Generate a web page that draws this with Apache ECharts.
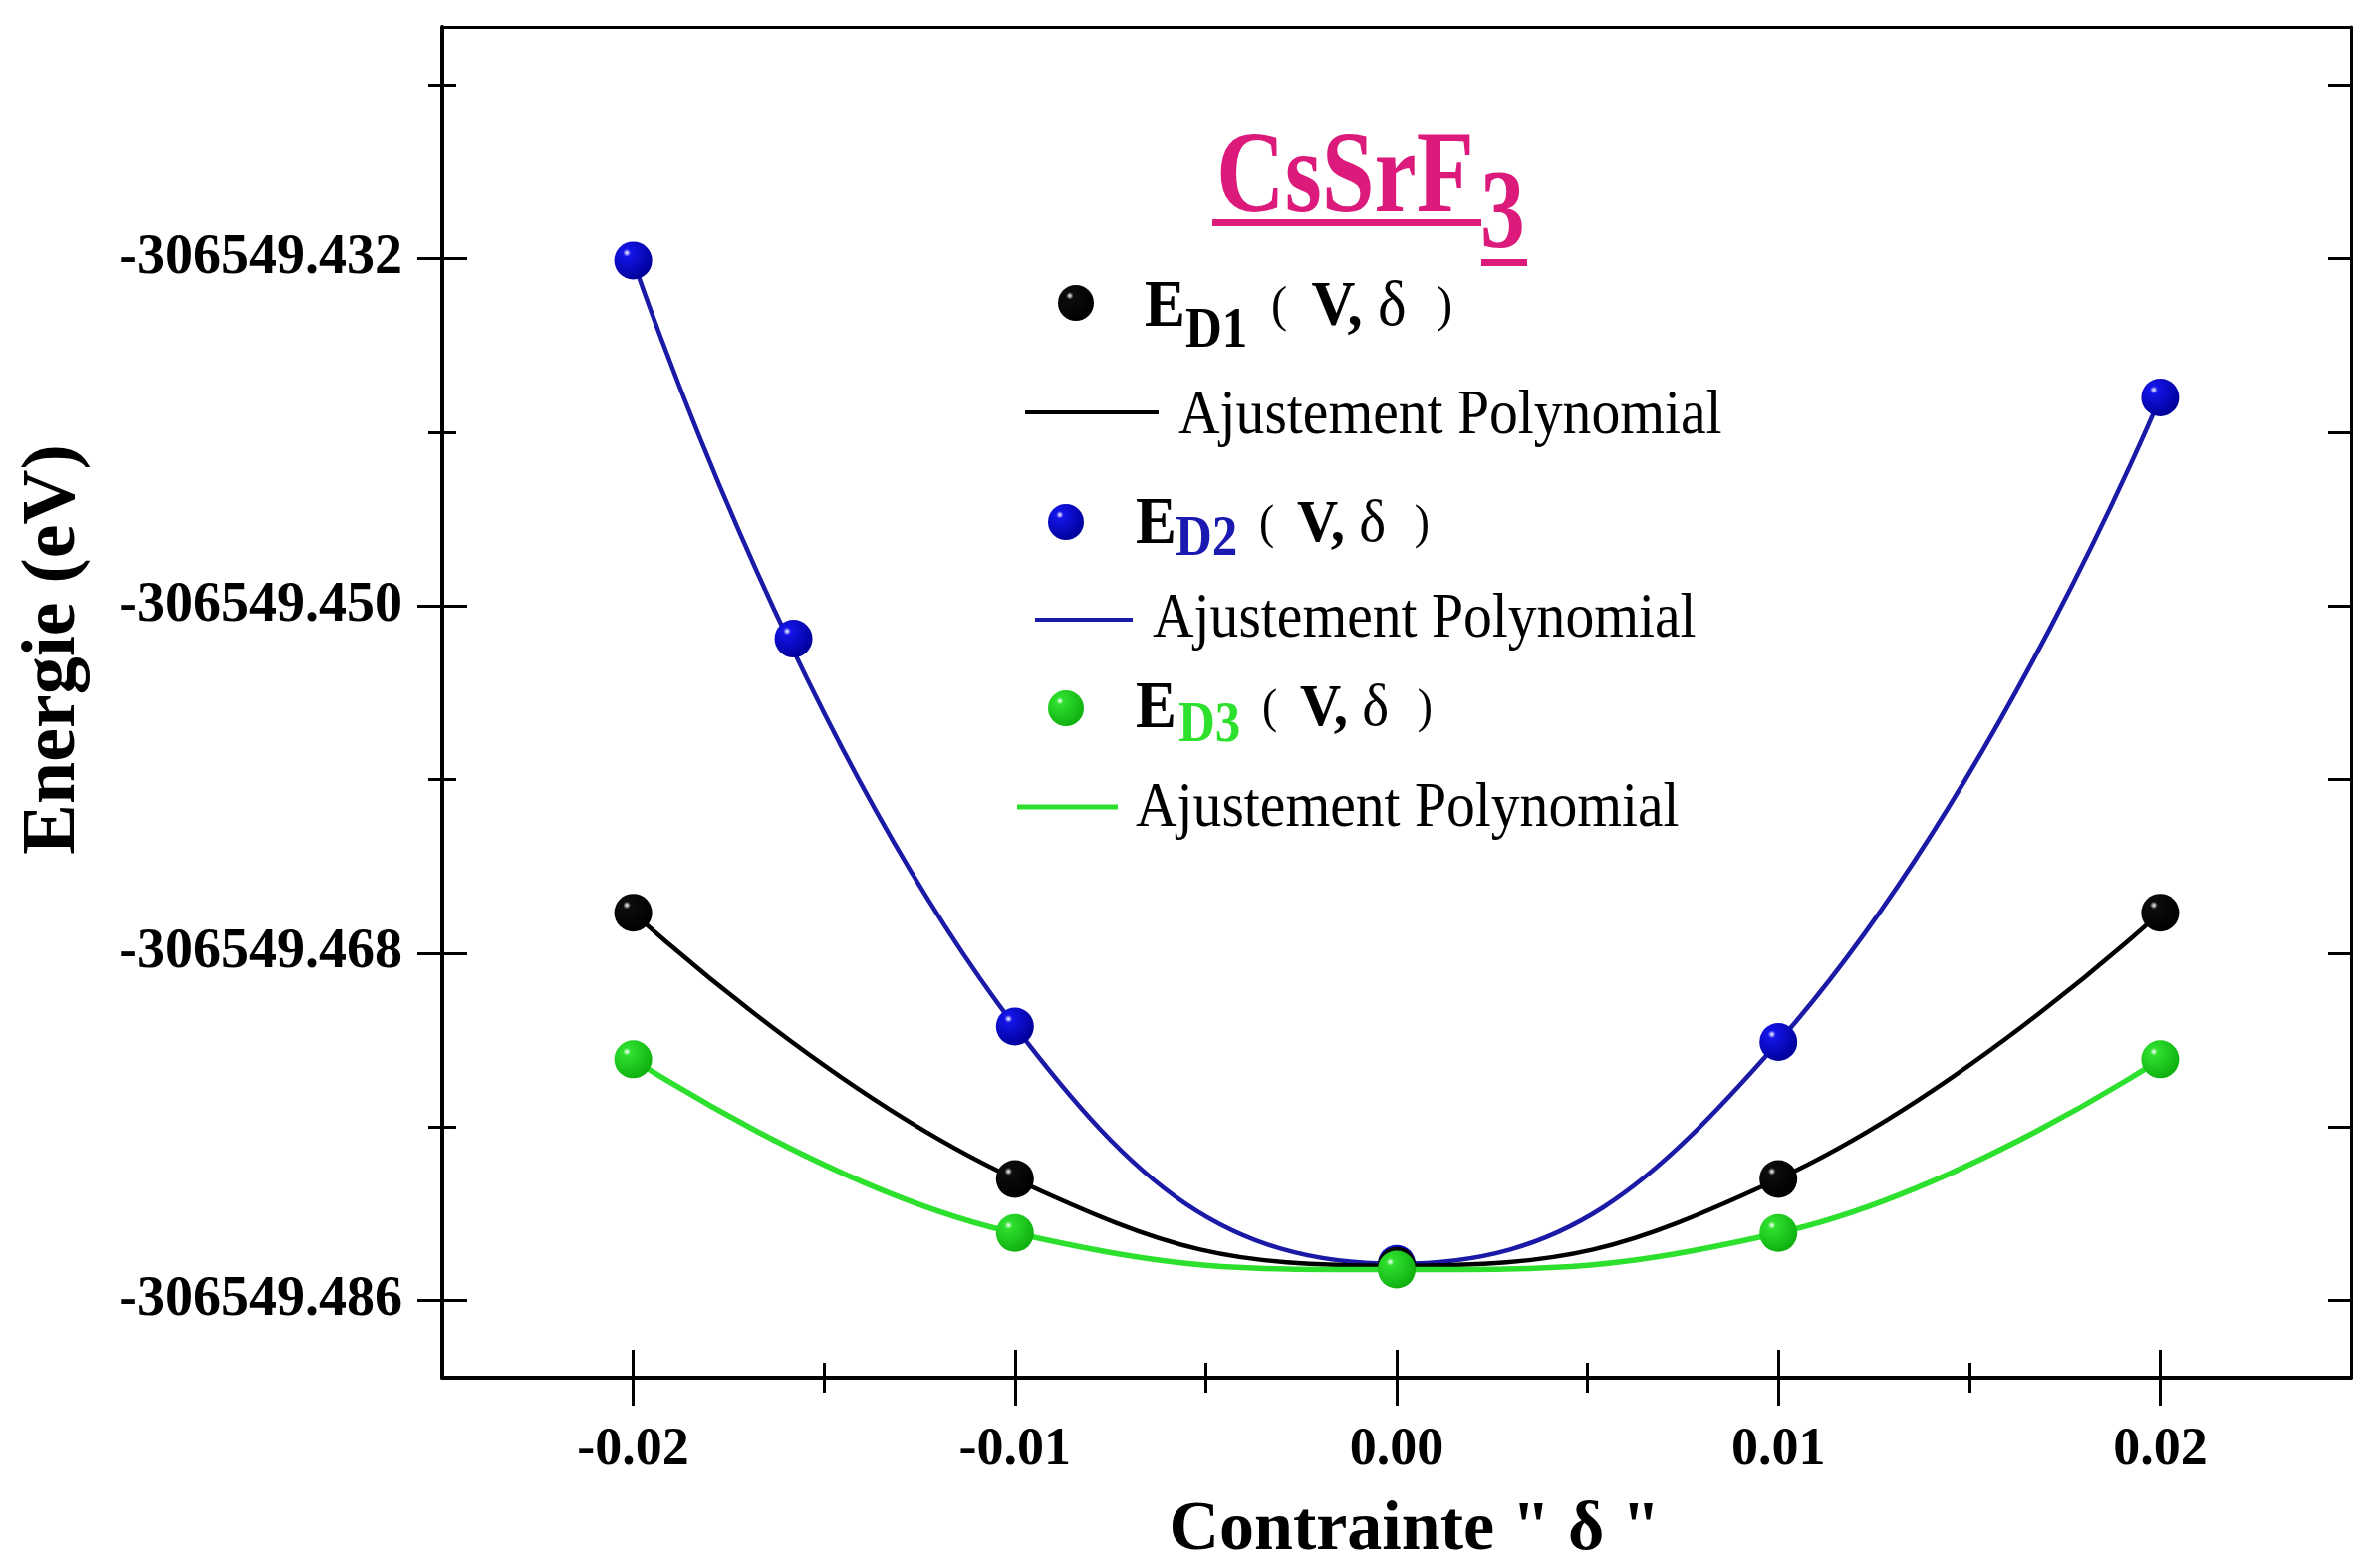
<!DOCTYPE html>
<html>
<head>
<meta charset="utf-8">
<style>
  html, body { margin: 0; padding: 0; background: #fff; }
  #chart { width: 2362px; height: 1574px; }
</style>
<script src="https://cdn.jsdelivr.net/npm/echarts@6/dist/echarts.min.js"></script>
</head>
<body>
<div id="chart"></div>
<script>
  // strain values (x) and total energies (eV)
  const strain = [-0.02, -0.01, 0.0, 0.01, 0.02]
  const strainD2 = [-0.02, -0.0158, -0.01, 0.0, 0.01, 0.02]
  const energyD1 = [-306549.4659, -306549.4797, -306549.4842, -306549.4797, -306549.4659]
  const energyD2 = [-306549.4321, -306549.4517, -306549.4718, -306549.4841, -306549.4726, -306549.4392]
  const energyD3 = [-306549.4735, -306549.4825, -306549.4844, -306549.4825, -306549.4735]

  const xTicks = [-0.02, -0.01, 0.0, 0.01, 0.02]
  const xMinorTicks = [-0.015, -0.005, 0.005, 0.015]
  const yTicks = [-306549.432, -306549.45, -306549.468, -306549.486]
  const yMinorTicks = [-306549.423, -306549.441, -306549.459, -306549.477]

  const X_MIN = -0.025
  const X_MAX = 0.025
  const Y_MIN = -306549.49
  const Y_MAX = -306549.42

  const SERIF = 'Liberation Serif'
  const BLACK = '#000000'
  const BLUE_LINE = '#1a1aa6'
  const BLUE = '#1414e8'
  const GREEN = '#2ee02e'
  const PINK = '#dc1a7c'

  function zip(xs, ys) {
    return xs.map((x, i) => [x, ys[i]])
  }

  // the fit curve goes through the regular strain points only
  const fitD2 = zip(strainD2, energyD2).filter((p) => strain.indexOf(p[0]) >= 0)

  function sphere(base, dark) {
    return new echarts.graphic.RadialGradient(0.33, 0.3, 0.72, [
      { offset: 0, color: '#ffffff' },
      { offset: 0.14, color: base },
      { offset: 1, color: dark },
    ])
  }

  const chart = echarts.init(document.getElementById('chart'), null, { renderer: 'canvas' })

  const baseX = { type: 'value', min: X_MIN, max: X_MAX, splitLine: { show: false } }
  const baseY = { type: 'value', min: Y_MIN, max: Y_MAX, splitLine: { show: false } }

  function fitLine(name, data, color, width) {
    return {
      name: name,
      type: 'line',
      data: data,
      smooth: 0.45,
      showSymbol: false,
      lineStyle: { color: color, width: width },
      z: 2,
    }
  }

  function points(name, data, base, dark) {
    return {
      name: name,
      type: 'scatter',
      data: data,
      symbol: 'circle',
      symbolSize: 38,
      itemStyle: { color: sphere(base, dark), opacity: 1 },
      z: 5,
    }
  }

  function label(x, y, text, size, weight, color, sx) {
    return {
      type: 'text',
      x: x,
      y: y,
      scaleX: sx || 1,
      style: {
        text: text,
        fontFamily: SERIF,
        fontSize: size,
        fontWeight: weight,
        fill: color,
        align: 'left',
        verticalAlign: 'middle',
      },
      z: 10,
    }
  }

  function vdelta(x, y, size) {
    return {
      type: 'text',
      x: x,
      y: y,
      scaleX: 0.95,
      style: {
        text: '{p|(  }{v|V,}{d| \u03b4  }{p|)}',
        fontFamily: SERIF,
        fontSize: size,
        fill: BLACK,
        align: 'left',
        verticalAlign: 'middle',
        rich: {
          p: { fontFamily: SERIF, fontSize: size * 0.8, fontWeight: 'normal', fill: BLACK },
          v: { fontFamily: SERIF, fontSize: size, fontWeight: 'bold', fill: BLACK },
          d: { fontFamily: SERIF, fontSize: size, fontWeight: 'normal', fill: BLACK },
        },
      },
      z: 10,
    }
  }

  chart.setOption({
    backgroundColor: '#ffffff',
    animation: false,
    grid: {
      left: 444,
      top: 27,
      width: 1916,
      height: 1356,
      outerBoundsMode: 'none',
    },
    xAxis: [
      Object.assign({}, baseX, {
        position: 'bottom',
        name: 'Contrainte " \u03b4 "',
        nameLocation: 'middle',
        nameGap: 119,
        nameTextStyle: {
          fontFamily: SERIF,
          fontSize: 70,
          fontWeight: 'bold',
          color: BLACK,
          padding: [0, 0, 0, 36],
        },
        axisLine: { onZero: false, lineStyle: { color: BLACK, width: 4 } },
        axisTick: { show: false },
        axisLabel: {
          customValues: xTicks,
          margin: 46,
          fontFamily: SERIF,
          fontSize: 54,
          fontWeight: 'bold',
          color: BLACK,
          formatter: (v) => v.toFixed(2),
        },
      }),
      Object.assign({}, baseX, {
        position: 'bottom',
        offset: -28,
        axisLine: { show: false, onZero: false },
        axisTick: { customValues: xTicks, length: 56, lineStyle: { color: BLACK, width: 3 } },
        axisLabel: { show: false },
      }),
      Object.assign({}, baseX, {
        position: 'bottom',
        offset: -15,
        axisLine: { show: false, onZero: false },
        axisTick: { customValues: xMinorTicks, length: 30, lineStyle: { color: BLACK, width: 3 } },
        axisLabel: { show: false },
      }),
      Object.assign({}, baseX, {
        position: 'top',
        axisLine: { onZero: false, lineStyle: { color: BLACK, width: 3 } },
        axisTick: { show: false },
        axisLabel: { show: false },
      }),
    ],
    yAxis: [
      Object.assign({}, baseY, {
        position: 'left',
        name: 'Energie (eV)',
        nameLocation: 'middle',
        nameGap: 352,
        nameTextStyle: {
          fontFamily: SERIF,
          fontSize: 76,
          fontWeight: 'bold',
          color: BLACK,
          padding: [0, 0, 0, 106],
        },
        axisLine: { onZero: false, lineStyle: { color: BLACK, width: 4 } },
        axisTick: { show: false },
        axisLabel: {
          customValues: yTicks,
          margin: 40,
          fontFamily: SERIF,
          fontSize: 56,
          fontWeight: 'bold',
          color: BLACK,
          formatter: (v) => v.toFixed(3),
        },
      }),
      Object.assign({}, baseY, {
        position: 'left',
        offset: -25,
        axisLine: { show: false, onZero: false },
        axisTick: { customValues: yTicks, length: 50, lineStyle: { color: BLACK, width: 3 } },
        axisLabel: { show: false },
      }),
      Object.assign({}, baseY, {
        position: 'left',
        offset: -14,
        axisLine: { show: false, onZero: false },
        axisTick: { customValues: yMinorTicks, length: 28, lineStyle: { color: BLACK, width: 3 } },
        axisLabel: { show: false },
      }),
      Object.assign({}, baseY, {
        position: 'right',
        axisLine: { onZero: false, lineStyle: { color: BLACK, width: 3 } },
        axisTick: {
          inside: true,
          customValues: yTicks.concat(yMinorTicks),
          length: 23,
          lineStyle: { color: BLACK, width: 3 },
        },
        axisLabel: { show: false },
      }),
    ],
    series: [
      fitLine('Ajustement D2', fitD2, BLUE_LINE, 4.5),
      fitLine('Ajustement D1', zip(strain, energyD1), BLACK, 4.5),
      fitLine('Ajustement D3', zip(strain, energyD3), GREEN, 5.5),
      points('E_D2', zip(strainD2, energyD2), BLUE, '#00009a'),
      points('E_D1', zip(strain, energyD1), '#0c0c0c', '#000000'),
      points('E_D3', zip(strain, energyD3), GREEN, '#10b010'),
    ],
    graphic: [
      // title CsSrF3
      label(1221, 182, 'CsSrF', 116, 'bold', PINK, 0.82),
      label(1486, 219, '3', 112, 'bold', PINK, 0.8),
      { type: 'rect', shape: { x: 1217, y: 220, width: 270, height: 7 }, style: { fill: PINK }, z: 10 },
      { type: 'rect', shape: { x: 1487, y: 260, width: 46, height: 7 }, style: { fill: PINK }, z: 10 },

      // E_D1
      { type: 'circle', shape: { cx: 1080, cy: 304, r: 18 }, style: { fill: sphere('#0c0c0c', '#000000') }, z: 10 },
      label(1149, 309, 'E', 68, 'bold', BLACK, 0.9),
      label(1190, 333, 'D1', 58, 'bold', BLACK, 0.88),
      vdelta(1276, 309, 64),
      { type: 'line', shape: { x1: 1029, y1: 414, x2: 1163, y2: 414 }, style: { stroke: BLACK, lineWidth: 4 }, z: 10 },
      label(1183, 418, 'Ajustement Polynomial', 64, 'normal', BLACK, 0.9),

      // E_D2
      { type: 'circle', shape: { cx: 1070, cy: 524, r: 18 }, style: { fill: sphere(BLUE, '#00009a') }, z: 10 },
      label(1140, 527, 'E', 68, 'bold', BLACK, 0.9),
      label(1180, 542, 'D2', 58, 'bold', '#1a1ab0', 0.88),
      vdelta(1264, 527, 60),
      { type: 'line', shape: { x1: 1039, y1: 622, x2: 1137, y2: 622 }, style: { stroke: BLUE_LINE, lineWidth: 4 }, z: 10 },
      label(1157, 622, 'Ajustement Polynomial', 64, 'normal', BLACK, 0.9),

      // E_D3
      { type: 'circle', shape: { cx: 1070, cy: 711, r: 18 }, style: { fill: sphere(GREEN, '#10b010') }, z: 10 },
      label(1140, 712, 'E', 68, 'bold', BLACK, 0.9),
      label(1183, 729, 'D3', 58, 'bold', GREEN, 0.88),
      vdelta(1267, 712, 60),
      { type: 'line', shape: { x1: 1021, y1: 810, x2: 1122, y2: 810 }, style: { stroke: GREEN, lineWidth: 5 }, z: 10 },
      label(1140, 812, 'Ajustement Polynomial', 64, 'normal', BLACK, 0.9),
    ],
  })
</script>
</body>
</html>
